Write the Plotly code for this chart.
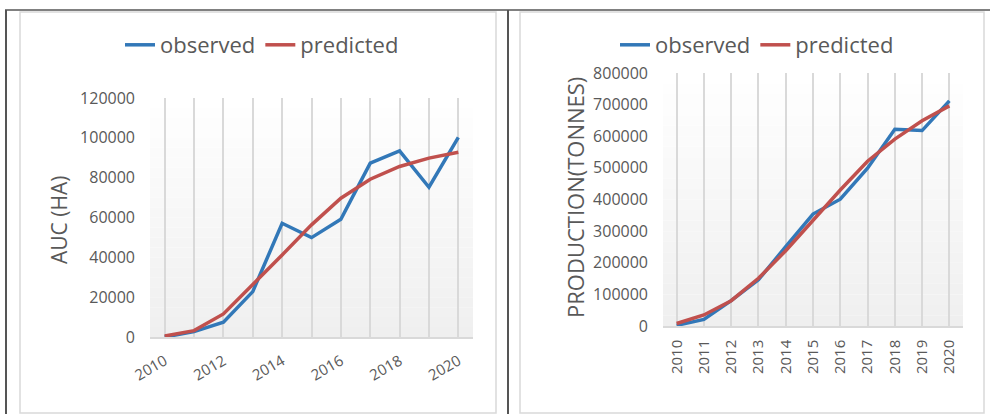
import plotly.graph_objects as go

years = list(range(2010, 2021))

auc_observed = [0, 2700, 7400, 22800, 57100, 49900, 59100, 87300, 93500, 75200, 100200]
auc_predicted = [500, 3200, 11600, 26100, 41200, 56300, 69700, 79200, 85600, 89800, 92800]

prod_observed = [2000, 21000, 80000, 146000, 251000, 354000, 401000, 499000, 622000, 618000, 712000]
prod_predicted = [8000, 35000, 80000, 151000, 238000, 335000, 430000, 521000, 591000, 649000, 696000]

left_ticktext = [str(y) if y % 2 == 0 else "" for y in years]
right_ticktext = [str(y) for y in years]

BLUE = "#3278b8"
RED = "#c0504d"
GREY_TXT = "#595959"
GRID = "#d9d9d9"
W, H = 990, 414


def px_x(x):
    return x / W


def px_y(y):
    return 1 - y / H


fig = go.Figure()

fig.add_trace(go.Scatter(x=years, y=auc_observed, name="observed", mode="lines",
                         line=dict(color=BLUE, width=3.5), xaxis="x", yaxis="y", legend="legend"))
fig.add_trace(go.Scatter(x=years, y=auc_predicted, name="predicted", mode="lines",
                         line=dict(color=RED, width=3.5), xaxis="x", yaxis="y", legend="legend"))
fig.add_trace(go.Scatter(x=years, y=prod_observed, name="observed", mode="lines",
                         line=dict(color=BLUE, width=3.5), xaxis="x2", yaxis="y2", legend="legend2"))
fig.add_trace(go.Scatter(x=years, y=prod_predicted, name="predicted", mode="lines",
                         line=dict(color=RED, width=3.5), xaxis="x2", yaxis="y2", legend="legend2"))

font = dict(family="Open Sans, Noto Sans, sans-serif", color=GREY_TXT)

axis_x = dict(showgrid=True, gridcolor=GRID, gridwidth=1.5, showline=True, linecolor=GRID,
              linewidth=1.5, zeroline=False, ticks="", range=[2009.5, 2020.5], automargin=False,
              tickfont=dict(size=15, color=GREY_TXT), tickvals=years)
axis_y = dict(showgrid=False, zeroline=False, showline=False, ticks="", automargin=False,
              tickformat="d", tickfont=dict(size=16, color=GREY_TXT), ticklabelstandoff=14)

fig.update_layout(
    width=W, height=H,
    margin=dict(l=0, r=0, t=0, b=0, pad=0),
    paper_bgcolor="white",
    plot_bgcolor="rgba(0,0,0,0)",
    font=font,
    xaxis=dict(axis_x, domain=[px_x(150), px_x(473)], anchor="y", ticktext=left_ticktext,
               tickangle=-30, ticklabelstandoff=8),
    yaxis=dict(axis_y, domain=[px_y(337), px_y(98)], anchor="x", range=[0, 120000],
               dtick=20000),
    xaxis2=dict(axis_x, domain=[px_x(663), px_x(963)], anchor="y2", ticktext=right_ticktext,
                tickangle=-90, ticklabelstandoff=6),
    yaxis2=dict(axis_y, domain=[px_y(326), px_y(73)], anchor="x2", range=[0, 800000],
                dtick=100000),
    legend=dict(orientation="h", x=px_x(262), y=px_y(45), xanchor="center", yanchor="middle",
                font=dict(size=22, color=GREY_TXT), bgcolor="rgba(0,0,0,0)"),
    legend2=dict(orientation="h", x=px_x(757), y=px_y(45), xanchor="center", yanchor="middle",
                 font=dict(size=22, color=GREY_TXT), bgcolor="rgba(0,0,0,0)"),
)

# gradient plot-area background (white at top to light grey at bottom)
n_bands = 24
for i in range(n_bands):
    t = (i + 0.5) / n_bands
    c = int(round(239 + (255 - 239) * t))
    col = f"rgb({c},{c},{c})"
    for xr, yr in (("x domain", "y domain"), ("x2 domain", "y2 domain")):
        fig.add_shape(type="rect", xref=xr, yref=yr, x0=0, x1=1, y0=i / n_bands,
                      y1=(i + 1) / n_bands, fillcolor=col, line_width=0, layer="below")

# chart frames and outer table lines
fig.add_shape(type="rect", xref="paper", yref="paper", x0=px_x(20), x1=px_x(496),
              y0=px_y(413), y1=px_y(12), line=dict(color=GRID, width=1.5))
fig.add_shape(type="rect", xref="paper", yref="paper", x0=px_x(520), x1=px_x(984),
              y0=px_y(413), y1=px_y(12), line=dict(color=GRID, width=1.5))
fig.add_shape(type="line", xref="paper", yref="paper", x0=px_x(5), x1=1,
              y0=px_y(10), y1=px_y(10), line=dict(color="#808080", width=2))
for xv in (6, 508):
    fig.add_shape(type="line", xref="paper", yref="paper", x0=px_x(xv), x1=px_x(xv),
                  y0=0, y1=px_y(10), line=dict(color="#555555", width=2))

# y axis titles
fig.add_annotation(text="AUC (HA)", xref="paper", yref="paper", x=px_x(59), y=px_y(220),
                   textangle=-90, showarrow=False, font=dict(size=21, color=GREY_TXT),
                   xanchor="center", yanchor="middle")
fig.add_annotation(text="PRODUCTION(TONNES)", xref="paper", yref="paper", x=px_x(575),
                   y=px_y(198), textangle=-90, showarrow=False,
                   font=dict(size=22, color=GREY_TXT), xanchor="center", yanchor="middle")

fig.write_html("out.html", config={"displayModeBar": False},
               post_script="document.body.style.margin = '0';")
